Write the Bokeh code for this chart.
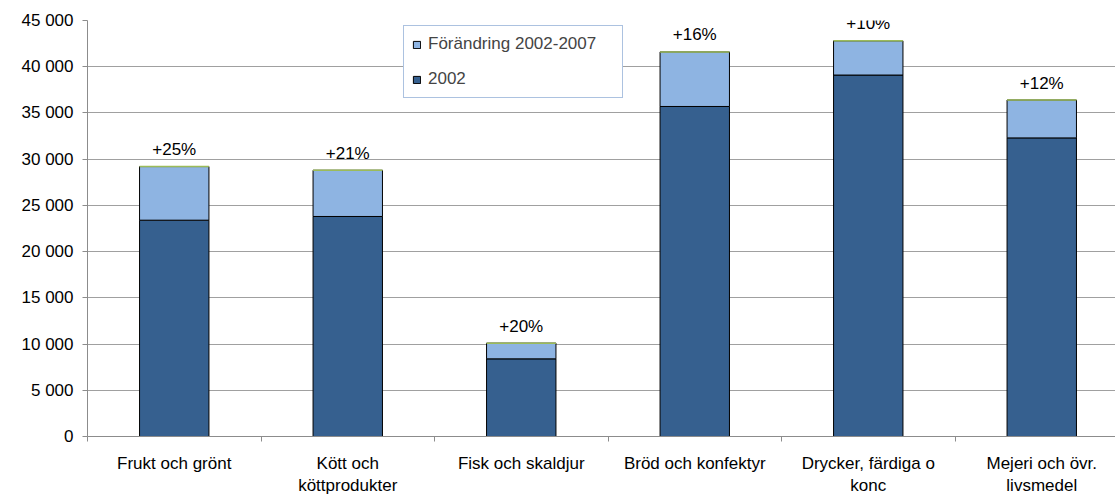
from bokeh.plotting import figure
from bokeh.models import (Range1d, FixedTicker, ColumnDataSource, Legend, LegendItem)
from bokeh.transform import dodge, stack
from bokeh.core.properties import value
from bokeh.embed import file_html
from bokeh.resources import INLINE

# ---- data ----
categories = ["Frukt och grönt", "Kött och\nköttprodukter", "Fisk och skaldjur",
              "Bröd och konfektyr", "Drycker, färdiga o\nkonc", "Mejeri och övr.\nlivsmedel"]
values_2002 = [23400, 23800, 8400, 35700, 39100, 32300]
change_2002_2007 = [5800, 5000, 1700, 5900, 3700, 4100]
pct_labels = ["+25%", "+21%", "+20%", "+16%", "+10%", "+12%"]
y_ticks = [0, 5000, 10000, 15000, 20000, 25000, 30000, 35000, 40000, 45000]
y_tick_labels = ["0", "5 000", "10 000", "15 000", "20 000", "25 000",
                 "30 000", "35 000", "40 000", "45 000"]
series_names = ["2002", "Förändring 2002-2007"]

FONT = "Liberation Sans"
FS = "17px"
DARK = "#36608F"
LIGHT = "#8EB4E2"
GREEN = "#9BBB59"
GRID = "#A0A0A0"
AXIS = "#8C8C8C"

centers = [i + 0.5 for i in range(len(categories))]
src = ColumnDataSource(dict(x=centers, v2002=values_2002, change=change_2002_2007,
                            pct=pct_labels))

p = figure(width=1115, height=498, x_range=Range1d(0, 5.925), y_range=Range1d(0, 45000),
           output_backend="svg", toolbar_location=None,
           min_border_left=87, min_border_right=0, min_border_top=20, min_border_bottom=58)
p.outline_line_color = None
p.background_fill_color = "white"

r_dark = p.vbar(x="x", width=0.4, bottom=0, top=stack("v2002"), source=src,
                fill_color=DARK, line_color="black", line_width=1)
r_light = p.vbar(x="x", width=0.4, bottom=stack("v2002"), top=stack("v2002", "change"),
                 source=src, fill_color=LIGHT, line_color="black", line_width=1)
p.segment(x0=dodge("x", -0.2), x1=dodge("x", 0.2), y0=stack("v2002", "change"),
          y1=stack("v2002", "change"), source=src, line_color=GREEN, line_width=1.5)

p.text(x="x", y=stack("v2002", "change"), text="pct", source=src,
       text_align="center", text_baseline="alphabetic", y_offset=-17,
       text_font=value(FONT), text_font_size=FS, text_color="black")

# axes
p.yaxis.ticker = FixedTicker(ticks=y_ticks)
p.yaxis.major_label_overrides = {t: l for t, l in zip(y_ticks, y_tick_labels)}
p.yaxis.minor_tick_line_color = None
p.yaxis.major_tick_out = 5
p.yaxis.major_tick_in = 0
p.yaxis.major_tick_line_color = AXIS
p.yaxis.axis_line_color = AXIS
p.yaxis.major_label_standoff = 9
p.yaxis.major_label_text_font = FONT
p.yaxis.major_label_text_font_size = FS
p.yaxis.major_label_text_color = "black"

p.xaxis.ticker = FixedTicker(ticks=centers, minor_ticks=list(range(len(categories) + 1)))
p.xaxis.major_label_overrides = {c: n for c, n in zip(centers, categories)}
p.xaxis.major_tick_line_color = None
p.xaxis.major_tick_out = 5
p.xaxis.major_tick_in = 0
p.xaxis.minor_tick_line_color = AXIS
p.xaxis.minor_tick_out = 5
p.xaxis.minor_tick_in = 0
p.xaxis.axis_line_color = AXIS
p.xaxis.major_label_standoff = 12
p.xaxis.major_label_text_font = FONT
p.xaxis.major_label_text_font_size = FS
p.xaxis.major_label_text_color = "black"

p.xgrid.grid_line_color = None
p.ygrid.ticker = FixedTicker(ticks=y_ticks)
p.ygrid.grid_line_color = GRID
p.ygrid.grid_line_width = 1

legend = Legend(items=[LegendItem(label=series_names[1], renderers=[r_light]),
                       LegendItem(label=series_names[0], renderers=[r_dark])],
                location=(316, 338), orientation="vertical",
                glyph_width=9, glyph_height=9, label_height=20, label_width=186,
                spacing=15, padding=8, margin=0, label_standoff=7,
                label_text_font=FONT, label_text_font_size=FS,
                border_line_color="#5A86C2", border_line_width=1,
                background_fill_color="white", background_fill_alpha=1)
p.add_layout(legend, "center")

open("out.html", "w").write(file_html(p, INLINE))
